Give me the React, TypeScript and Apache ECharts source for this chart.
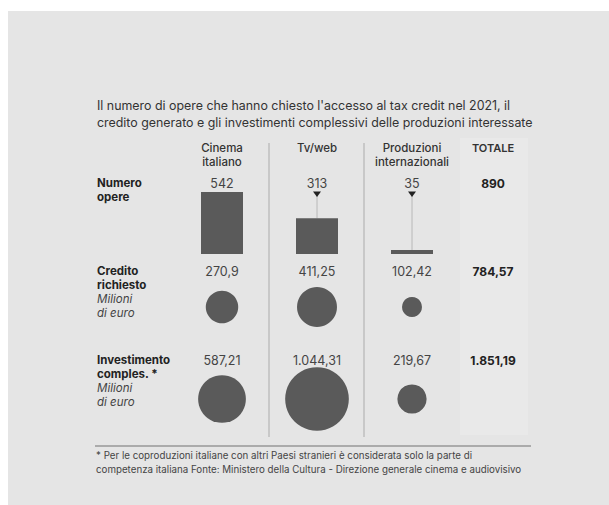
import React, { useEffect, useRef } from "react";
import * as echarts from "echarts";

// ---- data ----
const categories = ["Cinema italiano", "Tv/web", "Produzioni internazionali"];
const headerLines = [["Cinema", "italiano"], ["Tv/web"], ["Produzioni", "internazionali"]];
const totaleHeader = "TOTALE";
const numeroOpere = [542, 313, 35];
const creditoRichiesto = [270.9, 411.25, 102.42];
const investimento = [587.21, 1044.31, 219.67];
const totali = [890, 784.57, 1851.19];
const rowLabels = [["Numero", "opere"], ["Credito", "richiesto"], ["Investimento", "comples. *"]];
const unitLabel = ["Milioni", "di euro"];
const titleLines = [
  "Il numero di opere che hanno chiesto l'accesso al tax credit nel 2021, il",
  "credito generato e gli investimenti complessivi delle produzioni interessate",
];
const footerLines = [
  "* Per le coproduzioni italiane con altri Paesi stranieri è considerata solo la parte di",
  "competenza italiana Fonte: Ministero della Cultura - Direzione generale cinema e audiovisivo",
];

function fmtIt(v: number): string {
  const s = String(v);
  const [int, dec] = s.split(".");
  const g = int.replace(/\B(?=(\d{3})+(?!\d))/g, ".");
  return dec ? g + "," + dec : g;
}

const FONT = "Inter, 'Open Sans', sans-serif";
const MARK = "#5a5a5a";

function txt(text: string, x: number, y: number, o: any = {}) {
  return {
    type: "text",
    x,
    y,
    silent: true,
    style: {
      text,
      fontFamily: o.font ?? FONT,
      fontSize: o.size ?? 12,
      fontWeight: o.weight ?? "normal",
      fontStyle: o.style ?? "normal",
      fill: o.fill ?? "#333",
      textAlign: o.align ?? "left",
      align: o.align ?? "left",
      textVerticalAlign: "middle",
      verticalAlign: "middle",
    },
  };
}

export default function App() {
  const ref = useRef<HTMLDivElement>(null);
  useEffect(() => {
    if (!ref.current) return;
    const chart = echarts.init(ref.current, null, { renderer: "svg" });
    const colX = [222, 317, 412];
    const totX = 493;
    const yMax = Math.max(...numeroOpere);
    const gridLeft = 174.5;
    const gridW = 285;

    const graphics: any[] = [
      { type: "rect", silent: true, z: -10, shape: { x: 8, y: 11, width: 601, height: 494 }, style: { fill: "#e5e5e5" } },
      { type: "rect", silent: true, z: -9, shape: { x: 460, y: 138, width: 68, height: 297 }, style: { fill: "#e9e9e9" } },
      { type: "line", silent: true, shape: { x1: 269, y1: 143, x2: 269, y2: 437 }, style: { stroke: "#ababab", lineWidth: 1 } },
      { type: "line", silent: true, shape: { x1: 364, y1: 143, x2: 364, y2: 437 }, style: { stroke: "#ababab", lineWidth: 1 } },
      { type: "line", silent: true, shape: { x1: 95, y1: 446, x2: 531, y2: 446 }, style: { stroke: "#ababab", lineWidth: 2 } },
      txt(titleLines[0], 97, 105, { size: 12.4, fill: "#333" }),
      txt(titleLines[1], 97, 122, { size: 12.4, fill: "#333" }),
      txt(footerLines[0], 96, 455, { size: 9.75, fill: "#444" }),
      txt(footerLines[1], 96, 469, { size: 9.75, fill: "#444" }),
      txt(totaleHeader, totX, 148, { size: 11, weight: 600, align: "center", fill: "#333" }),
    ];
    headerLines.forEach((lines, i) => {
      lines.forEach((l, j) => {
        graphics.push(txt(l, colX[i], 148 + j * 14, { size: 11.5, weight: 500, align: "center", fill: "#333" }));
      });
    });
    const rowY = [183, 271, 360];
    rowLabels.forEach((lines, r) => {
      lines.forEach((l, j) => {
        graphics.push(txt(l, 97, rowY[r] + j * 14, { size: 11.5, weight: "bold", fill: "#222" }));
      });
      if (r > 0) {
        unitLabel.forEach((l, j) => {
          graphics.push(txt(l, 97, rowY[r] + 28 + j * 14, { size: 11.5, style: "italic", fill: "#444" }));
        });
      }
      graphics.push(txt(fmtIt(totali[r]), totX, rowY[r], { size: 12, weight: "bold", align: "center", fill: "#222" }));
    });

    const xAxes = [0, 1, 2].map((g) => ({
      type: "category",
      gridIndex: g,
      data: categories,
      show: false,
      boundaryGap: true,
    }));

    const scatter = (g: number, vals: number[], off: number) => ({
      type: "scatter",
      xAxisIndex: g,
      yAxisIndex: g,
      data: vals.map((v, i) => [i, 0, v]),
      symbol: "circle",
      symbolSize: (val: number[]) => 2 * Math.sqrt(val[2]) * 0.985,
      itemStyle: { color: MARK, opacity: 1 },
      label: {
        show: true,
        position: "inside",
        offset: [0, off],
        formatter: (p: any) => fmtIt(p.value[2]),
        color: "#444",
        fontSize: 12.5,
        fontFamily: FONT,
      },
      emphasis: { disabled: true },
    });

    chart.setOption({
      animation: false,
      backgroundColor: "#ffffff",
      grid: [
        { left: gridLeft, width: gridW, top: 192, height: 62 },
        { left: gridLeft, width: gridW, top: 287, height: 40 },
        { left: gridLeft, width: gridW, top: 379, height: 40 },
      ],
      xAxis: xAxes,
      yAxis: [
        { type: "value", gridIndex: 0, min: 0, max: yMax, show: false },
        { type: "category", gridIndex: 1, data: [""], show: false },
        { type: "category", gridIndex: 2, data: [""], show: false },
      ],
      graphic: graphics,
      series: [
        {
          type: "bar",
          xAxisIndex: 0,
          yAxisIndex: 0,
          data: numeroOpere,
          barWidth: 42,
          itemStyle: { color: MARK },
          emphasis: { disabled: true },
        },
        {
          type: "custom",
          xAxisIndex: 0,
          yAxisIndex: 0,
          data: numeroOpere.map((v, i) => [i, v]),
          renderItem: (params: any, api: any) => {
            const i = api.value(0);
            const v = api.value(1);
            const top = api.coord([i, yMax]);
            const bt = api.coord([i, v]);
            const x = top[0];
            const children: any[] = [
              {
                type: "text",
                x,
                y: top[1] - 9,
                style: {
                  text: fmtIt(v),
                  fontFamily: FONT,
                  fontSize: 12.5,
                  fill: "#444",
                  textAlign: "center",
                  align: "center",
                  textVerticalAlign: "middle",
                  verticalAlign: "middle",
                },
              },
            ];
            if (bt[1] - top[1] > 8) {
              children.push({
                type: "line",
                shape: { x1: x, y1: top[1] + 4, x2: x, y2: bt[1] },
                style: { stroke: "#b8b8b8", lineWidth: 1 },
              });
              children.push({
                type: "polygon",
                shape: { points: [[x - 4, top[1] - 0.5], [x + 4, top[1] - 0.5], [x, top[1] + 5]] },
                style: { fill: "#222" },
              });
            }
            return { type: "group", children };
          },
        },
        scatter(1, creditoRichiesto, -36),
        scatter(2, investimento, -39),
      ],
    });
    return () => chart.dispose();
  }, []);
  return (
    <div
      ref={ref}
      style={{ position: "absolute", left: 0, top: 0, width: 609, height: 505 }}
    />
  );
}
